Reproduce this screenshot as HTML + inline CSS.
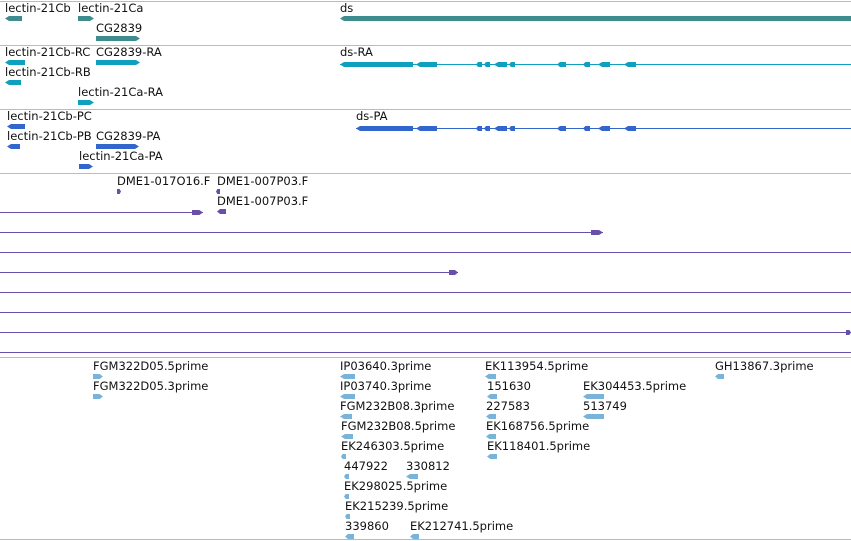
<!DOCTYPE html>
<html><head><meta charset="utf-8"><style>
html,body{margin:0;padding:0;background:#fff;}
svg{display:block;font-family:"DejaVu Sans","Liberation Sans",sans-serif;font-size:11.5px;}
</style></head><body>
<svg id="s" width="851" height="541" viewBox="0 0 851 541"></svg>
<script>
const separators=[1,45,109,173,357,539];
// [label,x,baseline,barX1,barX2,dir,color]
const TEAL="#3e8c8e",CYAN="#0fa0c0",BLUE="#3366cc",PURP="#6a4fa8",LB="#7ab3d9";
const features=[
["lectin-21Cb",5,12,5,22,-1,TEAL],["lectin-21Ca",78,12,78,94,1,TEAL],["CG2839",96,32,96,140,1,TEAL],
["lectin-21Cb-RC",5,56,5,25,-1,CYAN],["CG2839-RA",96,56,96,140,1,CYAN],["lectin-21Cb-RB",5,76,5,21,-1,CYAN],["lectin-21Ca-RA",78,96,78,94,1,CYAN],
["lectin-21Cb-PC",7,120,7,25,-1,BLUE],["lectin-21Cb-PB",7,140,7,20,-1,BLUE],["CG2839-PA",96,140,96,139,1,BLUE],["lectin-21Ca-PA",79,160,79,93,1,BLUE],
["DME1-017O16.F",117,185,117,121,1,PURP],["DME1-007P03.F",217,185,216,220,-1,PURP],["DME1-007P03.F",217,205,217,226,-1,PURP],
["FGM322D05.5prime",93,370,93,103,1,LB],["FGM322D05.3prime",93,390,93,103,1,LB],
["IP03640.3prime",340,370,340,355,-1,LB],["IP03740.3prime",340,390,340,355,-1,LB],["FGM232B08.3prime",340,410,340,352,-1,LB],
["FGM232B08.5prime",341,430,341,353,-1,LB],["EK246303.5prime",341,450,341,346,-1,LB],["447922",344,470,344,349,-1,LB],["330812",406,470,406,418,-1,LB],
["EK298025.5prime",344,490,344,349,-1,LB],["EK215239.5prime",345,510,345,350,-1,LB],["339860",345,530,345,354,-1,LB],["EK212741.5prime",410,530,410,419,-1,LB],
["EK113954.5prime",485,370,485,496,-1,LB],["151630",487,390,487,497,-1,LB],["227583",486,410,486,496,-1,LB],["EK168756.5prime",486,430,486,496,-1,LB],["EK118401.5prime",487,450,487,497,-1,LB],
["EK304453.5prime",583,390,583,604,-1,LB],["513749",583,410,583,604,-1,LB],["GH13867.3prime",715,370,715,724,-1,LB]
];
const dsExons=[[340,413],[416,437],[476,482],[484,490],[494,507],[509,515],[557,566],[583,590],[598,610],[624,636]];
// [y,endX,glyphStart]
const readLines=[[212,203,192],[232,603,591],[252,851,null],[272,458,449],[292,851,null],[312,851,null],[332,851,846],[352,851,null]];
const s=document.getElementById('s');const NS="http://www.w3.org/2000/svg";
function mk(t,a,name){const e=document.createElementNS(NS,t);for(const k in a)e.setAttribute(k,a[k]);


s.appendChild(e);return e;}
separators.forEach(y=>mk('line',{x1:0,x2:851,y1:y+.5,y2:y+.5,stroke:"#bbb"},'track-separator'));
function bar(x1,x2,y,dir,c,name){const h=5,w=x2-x1,t=Math.min(4,w/3);let p;
if(dir>0)p=`${x1},${y} ${x2-t},${y} ${x2},${y+h/2} ${x2-t},${y+h} ${x1},${y+h}`;
else p=`${x1},${y+h/2} ${x1+t},${y} ${x2},${y} ${x2},${y+h} ${x1+t},${y+h}`;
mk('polygon',{points:p,fill:c},name);}
features.forEach(f=>{const t=mk('text',{x:f[1],y:f[2],fill:"#111"},'feature-label');t.textContent=f[0];
bar(f[3],f[4],f[2]+4,f[5],f[6],'feature-glyph');});
// ds gene
let t=mk('text',{x:340,y:12,fill:"#111"},'ds-label');t.textContent="ds";bar(340,851,16,-1,TEAL,'ds-gene-bar');
[["ds-RA",340,56,CYAN],["ds-PA",356,120,BLUE]].forEach(d=>{const y=d[2]+8;
let tt=mk('text',{x:d[1],y:d[2],fill:"#111"},'transcript-label');tt.textContent=d[0];
mk('line',{x1:d[1],x2:851,y1:y+.5,y2:y+.5,stroke:d[3]},'intron-line');
dsExons.forEach((e,i)=>bar(i==0?d[1]:e[0],e[1],y-2,-1,d[3],'exon'));});
readLines.forEach(r=>{mk('line',{x1:0,x2:r[1],y1:r[0]+.5,y2:r[0]+.5,stroke:PURP},'read-line');
if(r[2]!==null)bar(r[2],r[1],r[0]-2,1,PURP,'read-end-glyph');});
</script>
</body></html>
